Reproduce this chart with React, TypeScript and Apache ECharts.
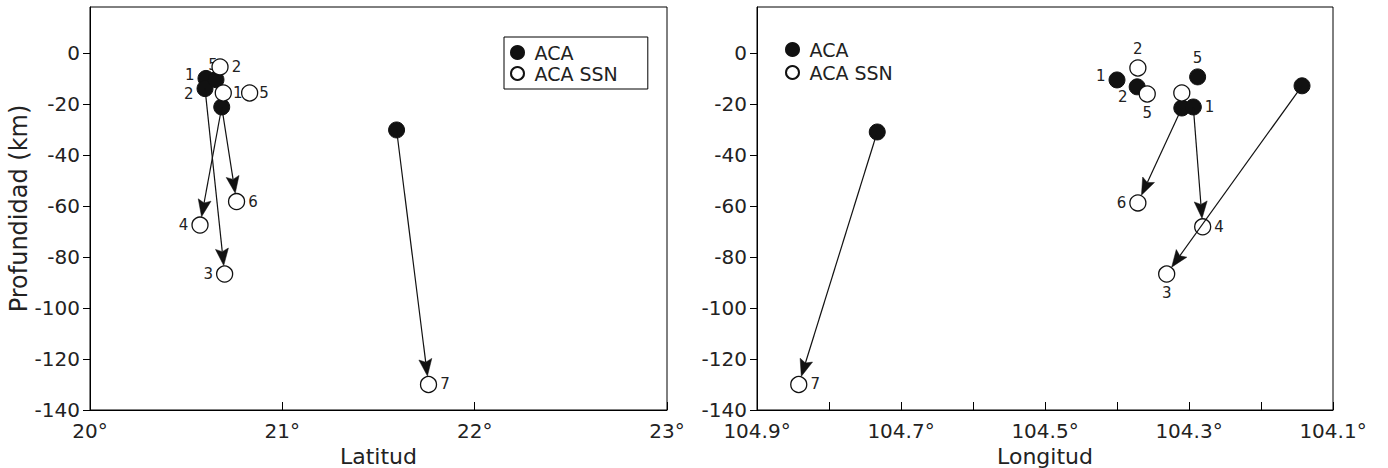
import React, { useEffect, useRef } from 'react';
import * as echarts from 'echarts';

// ---------- axis ticks / labels ----------
const depthTicks = [-140, -120, -100, -80, -60, -40, -20, 0];
const latTicks = [20, 21, 22, 23];
const lonTicks = [104.9, 104.8, 104.7, 104.6, 104.5, 104.4, 104.3, 104.2, 104.1];
const lonLabels = [104.9, 104.7, 104.5, 104.3, 104.1];
const legendNames = ['ACA', 'ACA SSN'];

// ---------- left panel: Latitud vs Profundidad ----------
const latAca = [
  [20.603, -10.0],
  [20.598, -14.0],
  [20.655, -10.5],
  [20.685, -21.2],
  [21.594, -30.2],
];
const latAcaLabels = ['1', '2', '5', '', ''];
const latSsn = [
  [20.676, -5.5],
  [20.693, -15.7],
  [20.83, -15.7],
  [20.762, -58.3],
  [20.572, -67.5],
  [20.7, -86.7],
  [21.76, -130.0],
];
const latSsnLabels = ['2', '1', '5', '6', '4', '3', '7'];
// arrows: [index in latAca, index in latSsn]
const latArrows = [
  [1, 5],
  [3, 4],
  [3, 3],
  [4, 6],
];

// ---------- right panel: Longitud vs Profundidad ----------
const lonAca = [
  [104.4, -10.6],
  [104.372, -13.3],
  [104.288, -9.4],
  [104.31, -21.6],
  [104.294, -21.2],
  [104.143, -12.9],
  [104.733, -31.0],
];
const lonAcaLabels = ['1', '2', '5', '', '1', '', ''];
const lonSsn = [
  [104.371, -5.9],
  [104.358, -16.1],
  [104.31, -15.7],
  [104.371, -58.8],
  [104.281, -68.2],
  [104.331, -86.7],
  [104.842, -130.0],
];
const lonSsnLabels = ['2', '5', '', '6', '4', '3', '7'];
const lonArrows = [
  [3, 3],
  [4, 4],
  [5, 5],
  [6, 6],
];

// ---------- label placement (style only) ----------
const latAcaPlace: any[] = [
  { position: 'left', offset: [0, -3] },
  { position: 'left', offset: [0, 5] },
  { position: 'top', offset: [-3, 4] },
  null,
  null,
];
const latSsnPlace: any[] = [
  { position: 'right', offset: [0, 0] },
  { position: 'right', offset: [-2, 0] },
  { position: 'right', offset: [-2, 0] },
  { position: 'right', offset: [0, 0] },
  { position: 'left', offset: [0, 0] },
  { position: 'left', offset: [0, 0] },
  { position: 'right', offset: [0, 0] },
];
const lonAcaPlace: any[] = [
  { position: 'left', offset: [0, -4] },
  { position: 'left', offset: [2, 10] },
  { position: 'top', offset: [0, 0] },
  null,
  { position: 'right', offset: [0, 0] },
  null,
  null,
];
const lonSsnPlace: any[] = [
  { position: 'top', offset: [0, 0] },
  { position: 'bottom', offset: [0, 0] },
  null,
  { position: 'left', offset: [0, 0] },
  { position: 'right', offset: [0, 0] },
  { position: 'bottom', offset: [0, 0] },
  { position: 'right', offset: [0, 0] },
];

const FONT = 'DejaVu Sans';
const INK = '#000';
const TXT = '#222';

function pointSeries(name: string, data: number[][], labels: string[], place: any[], filled: boolean, gi: number) {
  return {
    name,
    type: 'scatter',
    xAxisIndex: gi,
    yAxisIndex: gi,
    symbol: 'circle',
    symbolSize: 16,
    z: filled ? 3 : 4,
    itemStyle: filled
      ? { color: '#111', borderColor: '#111', borderWidth: 1, opacity: 1 }
      : { color: '#fff', borderColor: '#111', borderWidth: 1.3, opacity: 1 },
    data: data.map((v, i) => ({
      value: v,
      label: labels[i]
        ? {
            show: true,
            formatter: labels[i],
            position: place[i].position,
            offset: place[i].offset,
            distance: 3,
            fontSize: 15,
            fontFamily: FONT,
            color: TXT,
          }
        : { show: false },
    })),
  };
}

function arrowSeries(from: number[][], to: number[][], pairs: number[][], gi: number) {
  return {
    type: 'custom',
    xAxisIndex: gi,
    yAxisIndex: gi,
    coordinateSystem: 'cartesian2d',
    silent: true,
    z: 5,
    encode: { x: [0, 2], y: [1, 3] },
    data: pairs.map(([a, b]) => [from[a][0], from[a][1], to[b][0], to[b][1]]),
    renderItem: (params: any, api: any) => {
      const p1 = api.coord([api.value(0), api.value(1)]);
      const p2 = api.coord([api.value(2), api.value(3)]);
      const dx = p2[0] - p1[0];
      const dy = p2[1] - p1[1];
      const L = Math.hypot(dx, dy) || 1;
      const ux = dx / L;
      const uy = dy / L;
      const r = 8.5;
      const head = 17;
      const hw = 6.5;
      const notch = 3;
      const tip = [p2[0] - ux * r, p2[1] - uy * r];
      const base = [tip[0] - ux * head, tip[1] - uy * head];
      const mid = [base[0] + ux * notch, base[1] + uy * notch];
      return {
        type: 'group',
        children: [
          {
            type: 'line',
            shape: { x1: p1[0], y1: p1[1], x2: mid[0], y2: mid[1] },
            style: { stroke: '#111', lineWidth: 1.2 },
          },
          {
            type: 'polygon',
            shape: {
              points: [
                tip,
                [base[0] - uy * hw, base[1] + ux * hw],
                mid,
                [base[0] + uy * hw, base[1] - ux * hw],
              ],
            },
            style: { fill: '#111', stroke: '#111', lineWidth: 0.5 },
          },
        ],
      };
    },
  };
}

function yAxis(gi: number, withName: boolean) {
  return {
    type: 'value',
    gridIndex: gi,
    min: -140,
    max: 18,
    interval: 20,
    axisLine: { show: true, onZero: false, lineStyle: { color: INK, width: 1 } },
    axisTick: { show: true, inside: false, length: 7, customValues: depthTicks, lineStyle: { color: INK } },
    axisLabel: { show: true, customValues: depthTicks, fontSize: 20, fontFamily: FONT, color: TXT, margin: 10 },
    splitLine: { show: false },
    name: withName ? 'Profundidad (km)' : '',
    nameLocation: 'middle',
    nameGap: 53,
    nameTextStyle: { fontSize: 24, fontFamily: FONT, color: TXT },
  };
}

export default function App() {
  const ref = useRef<HTMLDivElement>(null);
  useEffect(() => {
    if (!ref.current) return;
    const chart = echarts.init(ref.current, null, { renderer: 'svg' });
    const option: any = {
      animation: false,
      backgroundColor: '#fff',
      textStyle: { fontFamily: FONT },
      grid: [
        { left: 90, top: 7, width: 577, height: 403, show: true, borderColor: INK, borderWidth: 1, backgroundColor: 'transparent', outerBoundsMode: 'none' },
        { left: 757, top: 7, width: 576, height: 403, show: true, borderColor: INK, borderWidth: 1, backgroundColor: 'transparent', outerBoundsMode: 'none' },
      ],
      xAxis: [
        {
          type: 'value',
          gridIndex: 0,
          min: 20,
          max: 23,
          interval: 1,
          axisLine: { show: true, onZero: false, lineStyle: { color: INK } },
          axisTick: { show: true, inside: true, length: 8, customValues: latTicks, lineStyle: { color: INK } },
          axisLabel: { show: true, customValues: latTicks, formatter: (v: number) => `${v}°`, fontSize: 20, fontFamily: FONT, color: TXT, margin: 11 },
          splitLine: { show: false },
          name: 'Latitud',
          nameLocation: 'middle',
          nameGap: 29,
          nameTextStyle: { fontSize: 22, fontFamily: FONT, color: TXT },
        },
        {
          type: 'value',
          gridIndex: 1,
          min: 104.1,
          max: 104.9,
          interval: 0.1,
          inverse: true,
          axisLine: { show: true, onZero: false, lineStyle: { color: INK } },
          axisTick: { show: true, inside: true, length: 8, customValues: lonTicks, lineStyle: { color: INK } },
          axisLabel: { show: true, customValues: lonLabels, formatter: (v: number) => `${v.toFixed(1)}°`, fontSize: 20, fontFamily: FONT, color: TXT, margin: 11 },
          splitLine: { show: false },
          name: 'Longitud',
          nameLocation: 'middle',
          nameGap: 29,
          nameTextStyle: { fontSize: 22, fontFamily: FONT, color: TXT },
        },
      ],
      yAxis: [yAxis(0, true), yAxis(1, false)],
      legend: [
        {
          data: legendNames,
          left: 504,
          top: 37,
          orient: 'vertical',
          borderColor: INK,
          borderWidth: 1,
          padding: [6, 30, 6, 6],
          itemGap: 2,
          itemWidth: 24,
          itemHeight: 13,
          selectedMode: false,
          textStyle: { fontSize: 19, fontFamily: FONT, color: TXT },
        },
        {
          data: legendNames,
          left: 785,
          top: 40,
          orient: 'vertical',
          padding: 0,
          itemGap: 4,
          itemWidth: 24,
          itemHeight: 13,
          selectedMode: false,
          textStyle: { fontSize: 19, fontFamily: FONT, color: TXT },
        },
      ],
      series: [
        pointSeries('ACA', latAca, latAcaLabels, latAcaPlace, true, 0),
        pointSeries('ACA SSN', latSsn, latSsnLabels, latSsnPlace, false, 0),
        arrowSeries(latAca, latSsn, latArrows, 0),
        pointSeries('ACA', lonAca, lonAcaLabels, lonAcaPlace, true, 1),
        pointSeries('ACA SSN', lonSsn, lonSsnLabels, lonSsnPlace, false, 1),
        arrowSeries(lonAca, lonSsn, lonArrows, 1),
      ],
    };
    chart.setOption(option);
    return () => chart.dispose();
  }, []);
  return (
    <div
      ref={ref}
      style={{ position: 'fixed', left: 0, top: 0, width: 1388, height: 468, background: '#fff' }}
    />
  );
}
